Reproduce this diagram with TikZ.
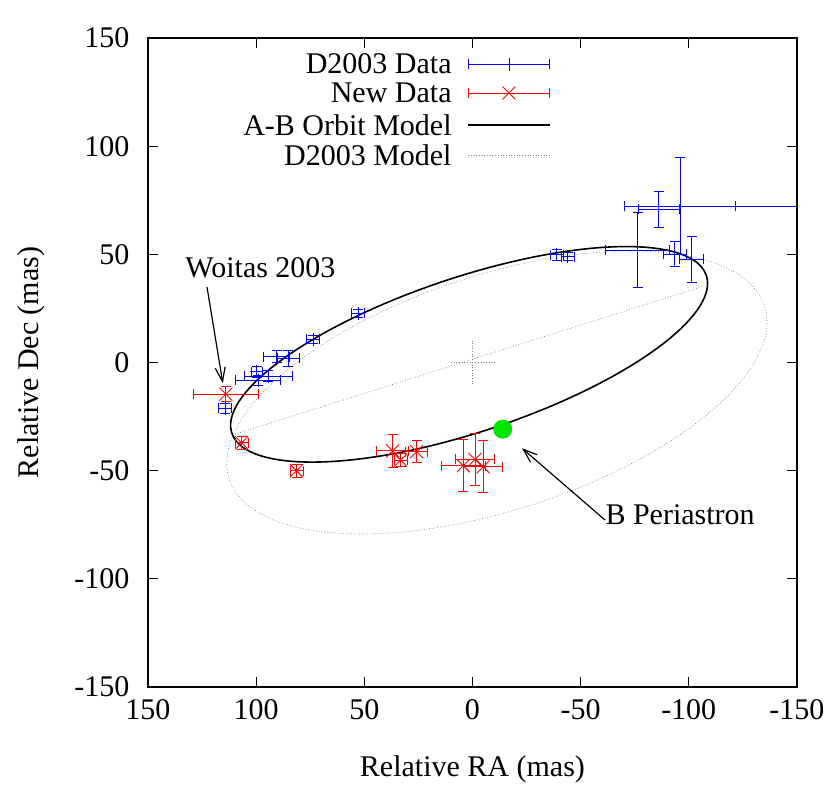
\documentclass[tikz,border=0pt]{standalone}
\usepackage{fontspec}
\setmainfont{LiberationSerif-Regular.ttf}
\usetikzlibrary{arrows.meta}
% error bar with caps: colour, x, y, dx, dy
\newcommand{\ebar}[5]{%
  \draw[#1,line width=0.9pt] (#2-#4,#3) -- (#2+#4,#3) (#2,#3-#5) -- (#2,#3+#5)
        (#2-#4,#3-2.3) -- (#2-#4,#3+2.3) (#2+#4,#3-2.3) -- (#2+#4,#3+2.3)
        (#2-2.3,#3-#5) -- (#2+2.3,#3-#5) (#2-2.3,#3+#5) -- (#2+2.3,#3+#5);}
\newcommand{\plusmark}[3]{\draw[#1,line width=0.9pt] (#2-3,#3) -- (#2+3,#3) (#2,#3-3) -- (#2,#3+3);}
\newcommand{\crossmark}[3]{\draw[#1,line width=0.9pt] (#2-3,#3-3) -- (#2+3,#3+3) (#2-3,#3+3) -- (#2+3,#3-3);}
\begin{document}
\begin{tikzpicture}[x=-2.163pt,y=2.163pt,font=\fontsize{30}{34}\selectfont]
  \tikzset{
    model/.style={black,line width=1.6pt},
    oldmodel/.style={gray,dotted,line width=0.7pt},
    pointer/.style={-{Straight Barb[length=14pt,width=10pt]},line width=1.2pt},
  }
  \useasboundingbox (218.4,-196.3) rectangle (-165.3,167.6);

  % axes and ticks
  \foreach \v in {-150,-100,...,150} {
    \draw[line width=1pt] (150,\v) -- (145.4,\v) (-150,\v) -- (-145.4,\v);
    \draw[line width=1pt] (\v,-150) -- (\v,-145.4) (\v,150) -- (\v,145.4);
    \node[anchor=east] (yl\v) at (157,\v) {\v};
    \node[anchor=north] (xl\v) at (\v,-154) {\v};
  }
  \node[rotate=90] (ytitle) at (204,0) {Relative Dec (mas)};
  \node (xtitle) at (0,-188) {Relative RA (mas)};

  % legend
  \node[anchor=east] (lg1) at (8,138) {D2003 Data};
  \node[anchor=east] (lg2) at (8,124.6) {New Data};
  \node[anchor=east] (lg3) at (8,109.8) {A-B Orbit Model};
  \node[anchor=east] (lg4) at (8,95.9) {D2003 Model};
  \ebar{blue}{-16.9}{138}{18.9}{0}\plusmark{blue}{-16.9}{138}
  \ebar{red}{-16.9}{124.6}{18.9}{0}\crossmark{red}{-16.9}{124.6}
  \draw[model] (2,109.8) -- (-35.8,109.8);
  \draw[oldmodel] (2,95.9) -- (-35.8,95.9);

  \begin{scope}
    \clip (150,-150) rectangle (-150,150);
    % D2003 model
    \draw[oldmodel] plot[domain=0:360,samples=120,smooth cycle]
      ({-11.3-124.9*cos(\x)},{-13.85+32.65*cos(\x)+56.67*sin(\x)});
    \draw[oldmodel] (110.9,-33.5) -- (-106,35);
    \draw[oldmodel] (10,0) -- (-10,0) (0,-10) -- (0,10);
    % orbit model
    \draw[model] plot[domain=0:360,samples=120,smooth cycle]
      ({1.55-110.25*cos(\x)},{3.8+32.8*cos(\x)+37.5*sin(\x)});
    % D2003 data
    \foreach \ra/\de/\dra/\dde in {52.8/22.7/3/2, 73.6/10.7/3/2, 90.5/2.7/6/2.7,
        85.1/1.9/5/3.5, 99.7/-4.3/2.5/2.5, 99/-8.1/10.4/2.3, 94.4/-6.3/11/2.5,
        114.4/-21.2/3/2.5, -39/49.8/3/2.5, -44/49/3/2, -96/72.3/25.7/22.3,
        -86.2/70.8/9.6/8.2, -76.4/52/14.8/17.2, -93.6/50.1/5.5/5.8,
        -101.3/47.7/5.7/10.6}
      {\ebar{blue}{\ra}{\de}{\dra}{\dde}\plusmark{blue}{\ra}{\de}}
    \draw[blue,line width=0.9pt] (-121.7,72.3) -- (-160,72.3);
    % new data
    \foreach \ra/\de/\dra/\dde in {114/-14.6/15/3.5, 106.7/-37.1/3/3, 81.3/-50/3/3,
        36.9/-40.8/7.3/7.7, 33.2/-45.1/3/3, 25.8/-41.2/5/5, 4.2/-47.7/10/12,
        -1.2/-44.8/9.2/12, -5/-48.2/9/12}
      {\ebar{red}{\ra}{\de}{\dra}{\dde}\crossmark{red}{\ra}{\de}}
  \end{scope}

  % periastron and annotations
  \node[circle,fill=green!90!black,minimum size=19pt,inner sep=0pt] (peri) at (-14,-30.8) {};
  \node (woitas) at (98,43.7) {Woitas 2003};
  \coordinate (wtail) at (122.7,34.9);
  \coordinate (wtip) at (115.4,-9.5);
  \draw[pointer] (wtail) -- (wtip);
  \node (bper) at (-96,-70.5) {B Periastron};
  \coordinate (ptail) at (-61.3,-72.8);
  \coordinate (ptip) at (-22.9,-39.6);
  \draw[pointer] (ptail) -- (ptip);

  \draw[line width=1.4pt] (150,-150) rectangle (-150,150);
\end{tikzpicture}
\end{document}
